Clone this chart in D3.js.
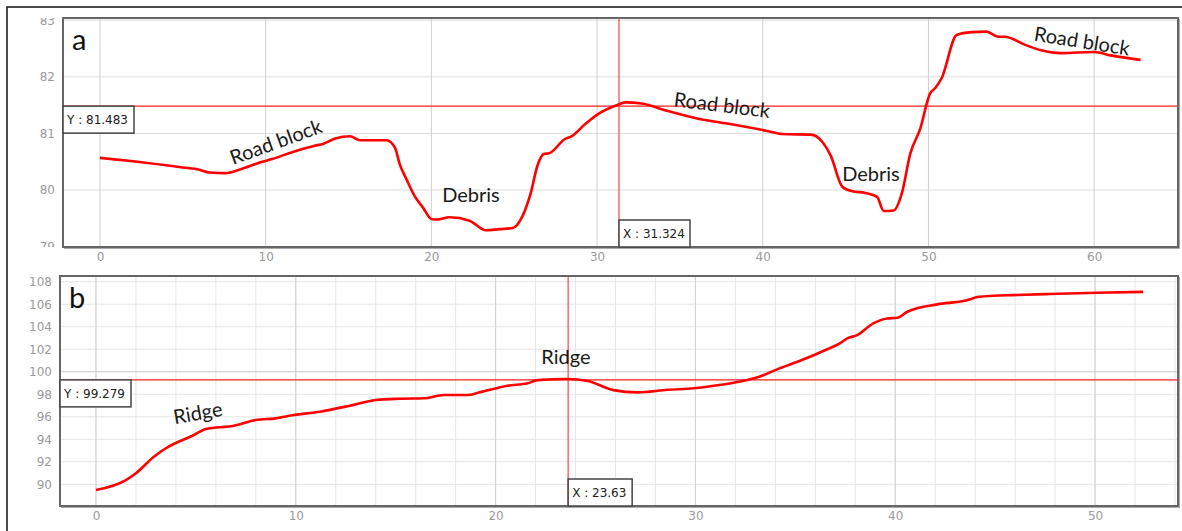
<!DOCTYPE html>
<html>
<head>
<meta charset="utf-8">
<script src="https://d3js.org/d3.v7.min.js"></script>
<style>
  body { margin: 0; background: #fff; }
  svg { display: block; }
  .tick text { font-family: "DejaVu Sans", sans-serif; font-size: 12px; fill: #9a9a9a; }
  .note { font-family: Lato, "Open Sans", sans-serif; font-size: 20px; fill: #1a1a1a; }
  .boxtxt { font-family: "DejaVu Sans", sans-serif; font-size: 12px; fill: #222; }
</style>
</head>
<body>
<svg width="1182" height="531"></svg>
<script>
// panel a: distance vs elevation
var aDist = [0, 2, 5, 6, 6.6, 7.6, 8.4, 9.8, 10.4, 11.6, 12.9, 13.5, 14.2, 15.1, 15.7, 17.3, 17.8, 18.1,
  18.5, 19, 19.5, 20, 20.3, 21.1, 22.3, 23.3, 24.1, 24.9, 25.5, 26, 26.4, 26.8, 27.1, 28.1, 28.4, 29.3,
  30.1, 31.2, 31.7, 32.7, 34.1, 36.1, 38.2, 40.2, 41.2, 42.9, 43.6, 44.1, 44.8, 45.4, 46.2, 46.9, 47.3,
  47.9, 48.4, 48.9, 49.5, 50.1, 50.4, 50.8, 51.7, 52.6, 53.5, 54.2, 54.6, 55.8, 56.8, 58, 60, 61, 62.8];
var aElev = [80.57, 80.51, 80.40, 80.36, 80.31, 80.30, 80.36, 80.50, 80.55, 80.67, 80.78, 80.82, 80.91, 80.95, 80.88, 80.88, 80.75, 80.45,
  80.19, 79.89, 79.69, 79.49, 79.48, 79.52, 79.46, 79.29, 79.31, 79.33, 79.54, 79.95, 80.43, 80.64, 80.65, 80.91, 80.94, 81.17,
  81.35, 81.50, 81.55, 81.53, 81.41, 81.26, 81.16, 81.05, 80.99, 80.98, 80.85, 80.61, 80.06, 79.98, 79.95, 79.88, 79.63,
  79.64, 79.95, 80.64, 81.08, 81.71, 81.80, 81.98, 82.74, 82.79, 82.80, 82.71, 82.71, 82.57, 82.47, 82.42, 82.44, 82.38, 82.30];

// panel b
var bDist = [0, 1.5, 2, 2.9, 3.5, 4.9, 5.5, 6.9, 8, 9, 9.9, 11.2, 12.7, 14, 15.2, 16.4, 17.4, 18.6, 19.2,
  20.6, 21.6, 22.1, 23.6, 24.6, 25.9, 27.1, 28.6, 29.9, 31.2, 32.6, 33.2, 34.2, 35.2, 36.6, 37.2, 37.6,
  38.1, 38.9, 39.6, 40.1, 40.6, 42.1, 43.4, 44.2, 44.9, 45.9, 47.6, 50.1, 52.4];
var bElev = [89.49, 90.38, 90.98, 92.45, 93.2, 94.38, 94.91, 95.2, 95.71, 95.86, 96.15, 96.45, 96.98, 97.49, 97.6, 97.64, 97.93, 97.93, 98.17,
  98.76, 98.97, 99.26, 99.35, 99.18, 98.37, 98.17, 98.4, 98.53, 98.82, 99.26, 99.56, 100.3, 100.95, 102.0, 102.5, 102.97,
  103.26, 104.3, 104.74, 104.8, 105.33, 105.99, 106.28, 106.66, 106.75, 106.81, 106.9, 107.02, 107.1];

var aXTicks = [0, 10, 20, 30, 40, 50, 60];
var aYTicks = [79, 80, 81, 82, 83];
var bXTicks = [0, 10, 20, 30, 40, 50];
var bXMinor = d3.range(0, 55, 2);
var bYTicks = [90, 92, 94, 96, 98, 100, 102, 104, 106, 108];

var aCross = [31.324, 81.483];
var bCross = [23.63, 99.279];

var svg = d3.select("svg");

// outer frame
svg.append("rect").attr("x", 7).attr("y", 7).attr("width", 1200).attr("height", 560)
  .attr("fill", "none").attr("stroke", "#111").attr("stroke-width", 1.5);

function panel(o) {
  var x = d3.scaleLinear().domain(o.xd).range([o.l, o.r]);
  var y = d3.scaleLinear().domain(o.yd).range([o.b, o.t]);
  var g = svg.append("g");
  var clipId = "clip" + o.name;
  svg.append("clipPath").attr("id", clipId).append("rect")
    .attr("x", -200).attr("y", o.t).attr("width", 400).attr("height", o.b - o.t);

  // grid
  if (o.xMinor) {
    g.selectAll(".vmin").data(o.xMinor).enter().append("line")
      .attr("x1", d => x(d)).attr("x2", d => x(d)).attr("y1", o.t).attr("y2", o.b)
      .attr("stroke", "#e6e6e6");
  }
  g.selectAll(".hgrid").data(o.yTicks).enter().append("line")
    .attr("x1", o.l).attr("x2", o.r).attr("y1", d => y(d)).attr("y2", d => y(d))
    .attr("stroke", d => o.yMajor && o.yMajor(d) ? "#c8c8c8" : (o.xMinor ? "#e6e6e6" : "#dcdcdc"));
  g.selectAll(".vgrid").data(o.xTicks).enter().append("line")
    .attr("x1", d => x(d)).attr("x2", d => x(d)).attr("y1", o.t).attr("y2", o.b)
    .attr("stroke", "#cfcfcf");

  // axes
  var ya = g.append("g").attr("transform", "translate(" + (o.l - 4) + ",0)")
    .attr("clip-path", "url(#" + clipId + ")")
    .call(d3.axisLeft(y).tickValues(o.yTicks).tickFormat(d3.format("d")).tickSize(0).tickPadding(4));
  ya.select(".domain").remove();
  var xa = g.append("g").attr("transform", "translate(0," + (o.b + 4) + ")")
    .call(d3.axisBottom(x).tickValues(o.xTicks).tickFormat(d3.format("d")).tickSize(0).tickPadding(1));
  xa.select(".domain").remove();

  // crosshair
  g.append("line").attr("x1", o.l).attr("x2", o.r).attr("y1", y(o.cross[1])).attr("y2", y(o.cross[1]))
    .attr("stroke", "#ff2020").attr("stroke-width", 1.2);
  g.append("line").attr("x1", x(o.cross[0])).attr("x2", x(o.cross[0])).attr("y1", o.t).attr("y2", o.b)
    .attr("stroke", "#ff4040").attr("stroke-width", 1.2);

  // data line
  var pts = o.xs.map((d, i) => [d, o.ys[i]]);
  g.append("path").datum(pts)
    .attr("d", d3.line().x(d => x(d[0])).y(d => y(d[1])).curve(d3.curveMonotoneX))
    .attr("fill", "none").attr("stroke", "#ff0000").attr("stroke-width", 2.6)
    .attr("stroke-linejoin", "round");

  // frame
  g.append("rect").attr("x", o.l).attr("y", o.t).attr("width", o.r - o.l).attr("height", o.b - o.t)
    .attr("fill", "none").attr("stroke", "#666").attr("stroke-width", 2);
  g.append("path").attr("d", "M" + (o.r + 1.5) + "," + (o.t + 1) + "V" + (o.b + 1.5) + "H" + (o.l + 1))
    .attr("fill", "none").attr("stroke", "#aaa").attr("stroke-width", 1);

  // crosshair value boxes
  var yb = g.append("g").attr("transform", "translate(" + o.l + "," + y(o.cross[1]) + ")");
  yb.append("rect").attr("width", o.yBoxW).attr("height", 27).attr("fill", "#fff")
    .attr("stroke", "#444").attr("stroke-width", 1.5);
  yb.append("text").attr("class", "boxtxt").attr("x", 4).attr("y", 18).text("Y : " + o.cross[1]);
  var xb = g.append("g").attr("transform", "translate(" + x(o.cross[0]) + "," + (o.b - 27) + ")");
  xb.append("rect").attr("width", o.xBoxW).attr("height", 27).attr("fill", "#fff")
    .attr("stroke", "#444").attr("stroke-width", 1.5);
  xb.append("text").attr("class", "boxtxt").attr("x", 4).attr("y", 18).text("X : " + o.cross[0]);

  // panel letter
  g.append("text").attr("x", o.l + 9).attr("y", o.t + 32).text(o.name)
    .attr("font-family", "Lato, sans-serif").attr("font-size", 29).attr("fill", "#111");

  o.x = x; o.y = y; o.g = g;
  return o;
}

function note(p, txt, dx, dy, rot) {
  p.g.append("text").attr("class", "note")
    .attr("transform", "translate(" + p.x(dx) + "," + p.y(dy) + ") rotate(" + rot + ")")
    .attr("text-anchor", "middle").attr("dy", "0.35em").text(txt);
}

var pa = panel({
  name: "a", l: 63, r: 1178, t: 18, b: 247,
  xd: [-2.23, 65.06], yd: [78.995, 83.04],
  xTicks: aXTicks, yTicks: aYTicks, xs: aDist, ys: aElev, cross: aCross,
  yBoxW: 71, xBoxW: 71
});
note(pa, "Road block", 10.62, 80.85, -20);
note(pa, "Debris", 22.39, 79.91, 0);
note(pa, "Road block", 37.54, 81.50, 7);
note(pa, "Debris", 46.53, 80.28, 0);
note(pa, "Road block", 59.26, 82.63, 9);

var pb = panel({
  name: "b", l: 60, r: 1178, t: 276, b: 506,
  xd: [-1.8, 54.15], yd: [88.07, 108.51],
  xTicks: bXTicks, yTicks: bYTicks, xMinor: bXMinor, xs: bDist, ys: bElev, cross: bCross,
  yMajor: d => d === 100, yBoxW: 71, xBoxW: 64
});
note(pb, "Ridge", 5.1, 96.33, -10);
note(pb, "Ridge", 23.52, 101.31, 0);
</script>
</body>
</html>
